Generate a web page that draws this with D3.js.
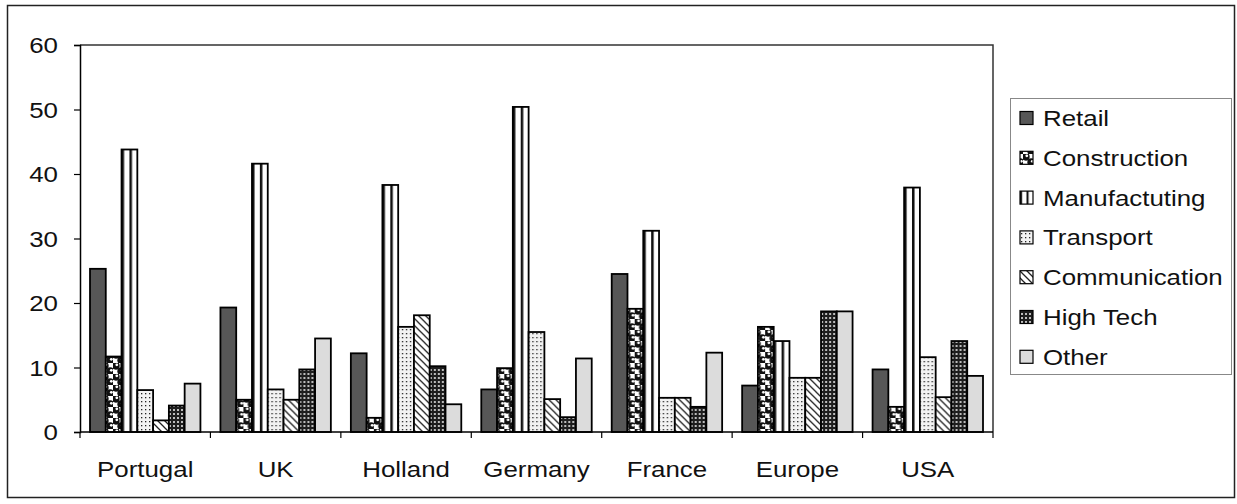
<!DOCTYPE html>
<html><head><meta charset="utf-8">
<script src="https://cdnjs.cloudflare.com/ajax/libs/d3/7.8.5/d3.min.js"></script>
<style>html,body{margin:0;padding:0;background:#fff;}svg{display:block;}</style>
</head><body>
<svg id="chart" width="1237" height="504"></svg>
<script>
const categories = ["Portugal","UK","Holland","Germany","France","Europe","USA"];
const seriesNames = ["Retail","Construction","Manufactuting","Transport","Communication","High Tech","Other"];
const retail        = [25.3, 19.3, 12.2, 6.6, 24.5, 7.2, 9.7];
const construction  = [11.7, 5.0, 2.2, 9.9, 19.1, 16.3, 3.9];
const manufacturing = [43.8, 41.6, 38.3, 50.4, 31.2, 14.1, 37.9];
const transport     = [6.5, 6.6, 16.3, 15.5, 5.3, 8.4, 11.6];
const communication = [1.8, 5.0, 18.1, 5.1, 5.3, 8.4, 5.4];
const highTech      = [4.1, 9.7, 10.2, 2.3, 3.9, 18.7, 14.1];
const other         = [7.5, 14.5, 4.3, 11.4, 12.3, 18.7, 8.7];
const yTicks = [0,10,20,30,40,50,60];

const seriesValues = [retail, construction, manufacturing, transport, communication, highTech, other];
const fills = ["url(#pRetail)","url(#pConst)","url(#pManu)","url(#pTrans)","url(#pComm)","url(#pHigh)","url(#pOther)"];

const svg = d3.select("#chart");
const defs = svg.append("defs");
const FONT = "'Liberation Sans', Arial, sans-serif";
const SX = 1.15;
const FS = 22.5;

// patterns
let p = defs.append("pattern").attr("id","pRetail").attr("patternUnits","userSpaceOnUse").attr("width",4).attr("height",4);
p.append("rect").attr("width",4).attr("height",4).attr("fill","#575757");

p = defs.append("pattern").attr("id","pConst").attr("patternUnits","userSpaceOnUse").attr("width",11).attr("height",11);
p.append("rect").attr("width",11).attr("height",11).attr("fill","#fff");
p.append("circle").attr("cx",2.75).attr("cy",2.75).attr("r",3.9).attr("fill","#111");
p.append("circle").attr("cx",8.25).attr("cy",8.25).attr("r",3.9).attr("fill","#111");
p.append("circle").attr("cx",3.8).attr("cy",1.8).attr("r",1.4).attr("fill","#fff");
p.append("circle").attr("cx",9.3).attr("cy",7.3).attr("r",1.4).attr("fill","#fff");

p = defs.append("pattern").attr("id","pManu").attr("patternUnits","objectBoundingBox").attr("patternContentUnits","objectBoundingBox").attr("width",0.5).attr("height",1);
p.append("rect").attr("width",0.5).attr("height",1).attr("fill","#fff");
p.append("rect").attr("x",0).attr("width",0.16).attr("height",1).attr("fill","#111");

p = defs.append("pattern").attr("id","pTrans").attr("patternUnits","userSpaceOnUse").attr("width",4).attr("height",4);
p.append("rect").attr("width",4).attr("height",4).attr("fill","#f2f2f2");
p.append("rect").attr("x",1).attr("y",1).attr("width",1.3).attr("height",1.3).attr("fill","#222");

p = defs.append("pattern").attr("id","pComm").attr("patternUnits","userSpaceOnUse").attr("width",7).attr("height",7);
p.append("rect").attr("width",7).attr("height",7).attr("fill","#fff");
p.append("path").attr("d","M-1,-1 L8,8 M-1,6 L1,8 M6,-1 L8,1").attr("stroke","#222").attr("stroke-width",1.3);

p = defs.append("pattern").attr("id","pHigh").attr("patternUnits","userSpaceOnUse").attr("width",4).attr("height",4);
p.append("rect").attr("width",4).attr("height",4).attr("fill","#1e1e1e");
p.append("rect").attr("x",1).attr("y",1).attr("width",2).attr("height",2).attr("fill","#bdbdbd");

p = defs.append("pattern").attr("id","pOther").attr("patternUnits","userSpaceOnUse").attr("width",4).attr("height",4);
p.append("rect").attr("width",4).attr("height",4).attr("fill","#dcdcdc");

// outer border
svg.append("rect").attr("x",7.5).attr("y",5.5).attr("width",1227).attr("height",492)
  .attr("fill","#fff").attr("stroke","#222").attr("stroke-width",1.5);

const pLeft = 80, pRight = 993, pTop = 45, pBottom = 432;
const x0 = d3.scaleBand().domain(categories).range([pLeft,pRight]).padding(0);
const gw = x0.bandwidth();
const x1 = d3.scaleBand().domain(seriesNames).range([10, gw-10]).padding(0);
const y = d3.scaleLinear().domain([0,60]).range([pBottom,pTop]);

// plot border (top and right)
svg.append("path").attr("d",`M${pLeft},${pTop}H${pRight}V${pBottom}`).attr("fill","none").attr("stroke","#333").attr("stroke-width",1.5);

// bars
const groups = svg.append("g").selectAll("g").data(categories).join("g")
  .attr("transform", d => `translate(${x0(d)},0)`);
groups.selectAll("rect").data((c,ci) => seriesNames.map((s,si) => ({s, si, v: seriesValues[si][ci]}))).join("rect")
  .attr("x", d => x1(d.s))
  .attr("y", d => y(d.v))
  .attr("width", x1.bandwidth())
  .attr("height", d => y(0) - y(d.v))
  .attr("fill", d => fills[d.si])
  .attr("stroke","#000").attr("stroke-width",1.8);

// y axis
const yAxis = svg.append("g").attr("transform",`translate(${pLeft},0)`)
  .call(d3.axisLeft(y).tickValues(yTicks).tickSize(6).tickFormat(""));
yAxis.select(".domain").attr("stroke","#000").attr("stroke-width",1.5);
yAxis.selectAll(".tick line").attr("stroke","#000").attr("stroke-width",1.2);
svg.append("g").selectAll("text").data(yTicks).join("text")
  .attr("transform", d => `translate(58,${y(d)+8}) scale(${SX},1)`)
  .attr("text-anchor","end").attr("font-family",FONT).attr("font-size",FS).attr("fill","#111")
  .text(d => d);

// x axis
const boundaries = categories.map(c => x0(c)).concat([pRight]);
svg.append("line").attr("x1",pLeft).attr("x2",pRight).attr("y1",pBottom).attr("y2",pBottom).attr("stroke","#000").attr("stroke-width",1.5);
svg.append("g").selectAll("line").data(boundaries).join("line")
  .attr("x1",d=>d).attr("x2",d=>d).attr("y1",pBottom).attr("y2",pBottom+6).attr("stroke","#000").attr("stroke-width",1.2);
svg.append("g").selectAll("text").data(categories).join("text")
  .attr("transform", d => `translate(${x0(d)+gw/2},477) scale(${SX},1)`)
  .attr("text-anchor","middle").attr("font-family",FONT).attr("font-size",FS).attr("fill","#111")
  .text(d => d);

// legend
const lg = svg.append("g");
lg.append("rect").attr("x",1010.5).attr("y",98.5).attr("width",221).attr("height",276)
  .attr("fill","#fff").attr("stroke","#888").attr("stroke-width",1);
const rowY = i => 118 + i*39.8;
lg.selectAll("rect.sw").data(seriesNames).join("rect").attr("class","sw")
  .attr("x",1020).attr("y",(d,i)=>rowY(i)-6.5).attr("width",13).attr("height",13)
  .attr("fill",(d,i)=>fills[i]).attr("stroke","#000").attr("stroke-width",1.2);
lg.selectAll("text").data(seriesNames).join("text")
  .attr("transform",(d,i)=>`translate(1043,${rowY(i)+8}) scale(${SX},1)`)
  .attr("font-family",FONT).attr("font-size",FS).attr("fill","#111")
  .text(d=>d);
</script>
</body></html>
